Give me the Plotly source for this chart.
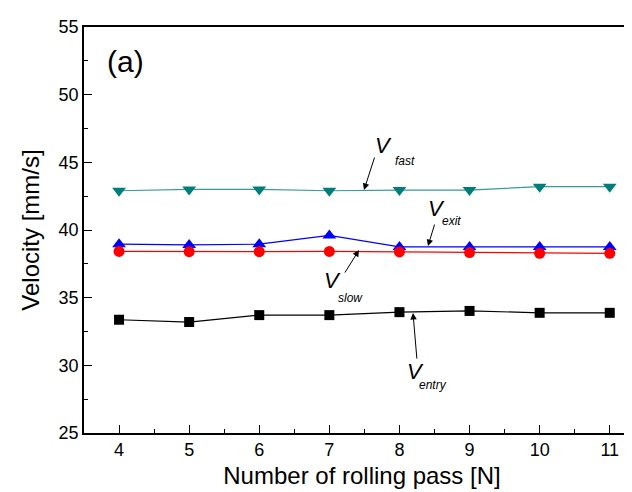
import plotly.graph_objects as go

passes = [4, 5, 6, 7, 8, 9, 10, 11]
v_fast = [42.9, 43.0, 43.0, 42.9, 42.95, 42.95, 43.2, 43.2]
v_exit = [38.95, 38.9, 38.95, 39.6, 38.75, 38.75, 38.75, 38.75]
v_slow = [38.42, 38.4, 38.4, 38.42, 38.38, 38.33, 38.28, 38.28]
v_entry = [33.37, 33.2, 33.71, 33.71, 33.93, 34.02, 33.88, 33.88]

FONT = "Liberation Sans, Arial, sans-serif"

fig = go.Figure()
fig.add_trace(go.Scatter(x=passes, y=v_fast, mode="lines+markers",
                         line=dict(color="#3a9a96", width=1.2),
                         marker=dict(symbol="triangle-down", size=12, color="#007f7a")))
fig.add_trace(go.Scatter(x=passes, y=v_exit, mode="lines+markers",
                         line=dict(color="#0000ff", width=1.2),
                         marker=dict(symbol="triangle-up", size=12, color="#0000ff")))
fig.add_trace(go.Scatter(x=passes, y=v_slow, mode="lines+markers",
                         line=dict(color="#ff0000", width=1.2),
                         marker=dict(symbol="circle", size=11, color="#ff0000")))
fig.add_trace(go.Scatter(x=passes, y=v_entry, mode="lines+markers",
                         line=dict(color="#000000", width=1.2),
                         marker=dict(symbol="square", size=10, color="#000000")))

XPU = 70.1   # px per x unit
YPU = 13.53  # px per y unit


def px2d(px, py):
    return 3.5 + (px - 76) / XPU, 55 - (py - 19) / YPU


annotations = []


def label(main_xy, sub_xy, sub):
    x, y = px2d(*main_xy)
    annotations.append(dict(x=x, y=y, xref="x", yref="y", text="<i>V</i>", showarrow=False,
                            xanchor="center", yanchor="middle",
                            font=dict(family=FONT, size=22, color="black")))
    x, y = px2d(*sub_xy)
    annotations.append(dict(x=x, y=y, xref="x", yref="y", text="<i>" + sub + "</i>", showarrow=False,
                            xanchor="center", yanchor="middle",
                            font=dict(family=FONT, size=12, color="black")))


def arrow(tail, tip):
    tx, ty = px2d(*tail)
    hx, hy = px2d(*tip)
    annotations.append(dict(x=hx, y=hy, ax=tx, ay=ty, xref="x", yref="y", axref="x", ayref="y",
                            text="", showarrow=True, arrowhead=2, arrowsize=1.3, arrowwidth=1,
                            arrowcolor="black", standoff=0))


label((375, 137), (397, 153), "fast")
arrow((367, 148), (356, 182))
label((428, 200), (443, 213), "exit")
arrow((427, 215), (420, 238))
label((324, 272), (342, 290), "slow")
arrow((336, 266), (351, 242))
label((407, 363), (425, 377), "entry")
arrow((409, 352), (405, 305))

annotations.append(dict(x=(117 - 76) / 556, y=(425 - 53) / 406, xref="paper", yref="paper",
                        xanchor="center", yanchor="middle",
                        text="(a)", showarrow=False,
                        font=dict(family=FONT, size=30, color="black")))

fig.update_layout(
    width=632, height=492,
    margin=dict(l=76, r=0, t=19, b=67),
    paper_bgcolor="white", plot_bgcolor="white",
    showlegend=False,
    annotations=annotations,
    font=dict(family=FONT, color="black"),
)
fig.update_xaxes(range=[3.5, 3.5 + 556 / XPU], tickmode="array", tickvals=passes,
                 ticks="inside", ticklen=8, tickwidth=1.3, tickcolor="black",
                 minor=dict(dtick=0.5, tick0=3.5, ticks="inside", ticklen=4, tickwidth=1.3, tickcolor="black"),
                 showline=True, linecolor="black", linewidth=1.5, mirror=True,
                 showgrid=False, zeroline=False,
                 tickfont=dict(family=FONT, size=18, color="black"),
                 title=dict(text="Number of rolling pass [N]", font=dict(family=FONT, size=24, color="black"), standoff=8))
fig.update_yaxes(range=[25, 55], tickmode="array", tickvals=[25, 30, 35, 40, 45, 50, 55],
                 ticks="inside", ticklen=8, tickwidth=1.3, tickcolor="black",
                 minor=dict(dtick=2.5, tick0=25, ticks="inside", ticklen=4, tickwidth=1.3, tickcolor="black"),
                 showline=True, linecolor="black", linewidth=1.5, mirror=False,
                 showgrid=False, zeroline=False,
                 tickfont=dict(family=FONT, size=18, color="black"),
                 title=dict(text="Velocity [mm/s]", font=dict(family=FONT, size=24, color="black"), standoff=12))

fig.write_html("out.html")
